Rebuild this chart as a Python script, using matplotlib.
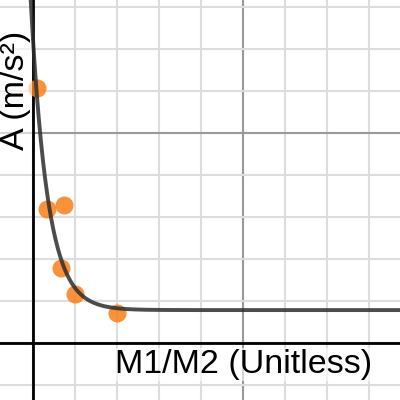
# Acceleration vs mass ratio, Desmos-style plot
import numpy as np
import matplotlib.pyplot as plt

# Measured points
ratio = [0.019, 0.067, 0.148, 0.133, 0.200, 0.400]
accel = [1.214, 0.638, 0.657, 0.357, 0.233, 0.143]

# Fitted curve y = c + a*exp(-b*x)
fit_a, fit_b, fit_c = 1.29, 12.5, 0.157

plt.rcParams['font.family'] = ['Liberation Sans', 'DejaVu Sans']

fig = plt.figure(figsize=(4, 4), dpi=100)
ax = fig.add_axes([0, 0, 1, 1])

# Grid: minor every 0.2, major every 1
ax.set_xticks(np.arange(-1, 3, 1.0))
ax.set_yticks(np.arange(-1, 3, 1.0))
ax.set_xticks(np.arange(-1, 3, 0.2), minor=True)
ax.set_yticks(np.arange(-1, 3, 0.2), minor=True)
ax.grid(which='minor', color='#dddddd', linewidth=1.5)
ax.grid(which='major', color='#999999', linewidth=1.5)
ax.tick_params(which='both', length=0, labelbottom=False, labelleft=False)
for s in ax.spines.values():
    s.set_visible(False)
ax.set_axisbelow(True)
ax.set_xlim(-0.157, 1.748)
ax.set_ylim(-0.271, 1.633)

# Axis lines
ax.axhline(0, color='black', linewidth=2, zorder=2)
ax.axvline(0, color='black', linewidth=2, zorder=2)

# Points
ax.plot(ratio, accel, 'o', color='#fa7e19', markersize=13, alpha=0.85,
        markeredgewidth=0, zorder=3)

# Fit curve
xs = np.linspace(-0.2, 1.8, 600)
ys = fit_c + fit_a * np.exp(-fit_b * xs)
ax.plot(xs, ys, color='#2d2d2d', linewidth=2.8, alpha=0.85, zorder=4)

# Axis labels
ax.text(0.2875, 0.0675, 'M1/M2 (Unitless)', transform=ax.transAxes,
        fontsize=24.5, ha='left', va='baseline',
        bbox=dict(facecolor='white', edgecolor='none', alpha=0.6, pad=1))
ax.text(0.0, 0.775, 'A (m/s²)', transform=ax.transAxes, rotation=90,
        fontsize=24.5, ha='left', va='center',
        bbox=dict(facecolor='white', edgecolor='none', alpha=0.6, pad=1))

fig.savefig('out.png', dpi=100)
